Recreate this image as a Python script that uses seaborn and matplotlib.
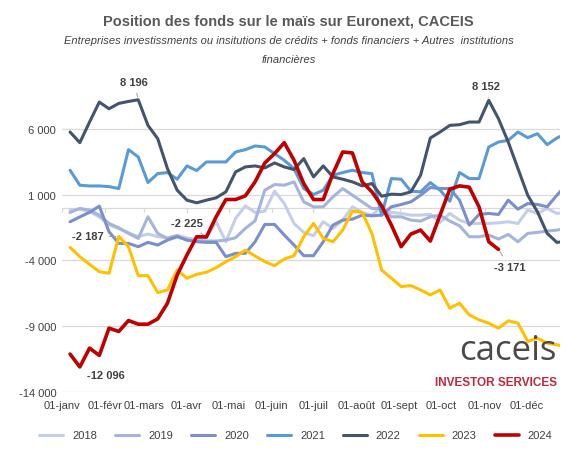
import numpy as np
import pandas as pd
import matplotlib
matplotlib.use("Agg")
import matplotlib.pyplot as plt
import seaborn as sns

months = ["01-janv", "01-févr", "01-mars", "01-avr", "01-mai", "01-juin", "01-juil",
          "01-août", "01-sept", "01-oct", "01-nov", "01-déc"]
month_days = [0, 31, 59, 90, 120, 151, 181, 212, 243, 273, 304, 334]

s2018 = [-200,-100,-300,-700,-1300,-1600,-1900,-2200,-2000,-2200,-2300,-2100,-2300,-2400,-2300,
         -1070,-2586,-818,141,-364,-263,1252,318,-1197,-1878,-2131,-1070,
         -1575,-944,66,-364,-566,66,-364,-439,-566,-566,-500,-1121,-439,-944,-1197,-1197,-1197,
         -1150,-1070,-1197,-187,-439,-61,-439,-313]
s2019 = [-364,-61,-187,-566,-1197,-1525,-1954,-2333,-692,-1954,-2333,-2131,-2459,-2535,-2535,
         -2535,-2459,-2283,-1575,-1000,1328,1757,1707,1960,444,66,66,
         823,1454,949,444,-61,-61,-692,-692,-944,-1020,-692,-566,-1020,-1373,-2207,-2207,-2080,
         -2383,-2030,-2586,-1954,-1878,-1777,-1702,-1575]
s2020 = [-1070,-700,-350,116,-1828,-2712,-2712,-2964,-2636,-2838,-2459,-2207,-2459,-2586,-2636,
         -2636,-3722,-3469,-3469,-2586,-1272,-1272,-2080,-2838,-3646,-3646,-2586,
         -1323,-944,-868,-566,-616,-566,66,242,444,949,1530,1454,1454,571,-1323,-515,-439,-515,
         571,-111,318,242,66,949,1757]
s2021 = [2843,1707,1650,1650,1600,1454,4409,3853,1909,2591,2667,2162,3172,2818,3474,3474,3474,
         4232,4409,4687,4611,4106,3600,2970,1454,1000,1328,
         2465,2667,2843,2667,2591,-566,2212,2162,1252,1202,1909,1328,495,2667,2212,2212,4611,
         4990,5116,5747,5318,5621,4788,5293,5621]
s2022 = [5747,4939,6505,8020,7515,7919,8070,8196,6252,5242,2970,1328,571,369,571,748,1202,2717,
         3096,3172,3020,3399,3096,2894,3727,2338,3172,
         2338,2162,1960,1656,1833,874,1025,1000,1202,2465,5293,5747,6252,6303,6505,6505,8152,
         6757,4990,2970,950,-313,-1954,-2636,-2548]
s2023 = [-3015,-3722,-4303,-4858,-4984,-2187,-2964,-5161,-5161,-6449,-6247,-4732,-5363,-5060,
         -4908,-4555,-4100,-3722,-3217,-3671,-4100,-4403,-3898,-3646,-2207,-1197,-2333,
         -2586,-1702,-262,-363,-1954,-4732,-5363,-5994,-5919,-6247,-6626,-6247,-7636,-7257,
         -8141,-8519,-8772,-9150,-8595,-8772,-10161,-9908,-10287,-10413,-10615]
s2024 = [-11120,-12096,-10665,-11221,-9150,-9403,-8570,-8848,-8848,-8444,-7257,-5110,-3595,
         -2207,-2225,-692,621,621,899,1960,3399,4106,4939,3600,1833,621,621,
         2591,4232,4156,1960,1202,141,-1323,-2964,-2005,-1702,-2535,-566,1404,1656,1555,66,
         -2586,-3171]

series = {"2018": s2018, "2019": s2019, "2020": s2020, "2021": s2021,
          "2022": s2022, "2023": s2023, "2024": s2024}
colors = {"2018": "#C5CEE8", "2019": "#A6B4DC", "2020": "#7A8FCB", "2021": "#5B9BD5",
          "2022": "#44546A", "2023": "#FFC000", "2024": "#C00000"}

rows = []
for yr, vals in series.items():
    for k, v in enumerate(vals):
        rows.append({"day": 6 + 7 * k, "val": v, "year": yr})
df = pd.DataFrame(rows)

sns.set_theme(style="white")
plt.rcParams['font.family'] = ['Liberation Sans', 'DejaVu Sans']

fig = plt.figure(figsize=(5.77, 4.64), dpi=100)
ax = fig.add_axes([0.107, 0.153, 0.863, 0.681])
sns.lineplot(data=df, x="day", y="val", hue="year", palette=colors, ax=ax,
             linewidth=2.2, legend=True)
for ln in ax.lines:
    if ln.get_color().lower() == "#c00000":
        ln.set_linewidth(2.6)
        ln.set_zorder(5)

ax.set_xlim(0, 358)
ax.set_ylim(-14000, 10000)
ax.set_yticks([-14000, -9000, -4000, 1000, 6000])
ax.set_yticklabels([f"{t:,}".replace(",", " ") for t in [-14000, -9000, -4000, 1000, 6000]],
                   fontsize=8, color="#404040")
ax.set_xticks(month_days)
ax.set_xticklabels(months, fontsize=8, color="#404040")
ax.tick_params(axis="both", length=0, pad=4)
ax.tick_params(axis="x", pad=6)
ax.grid(axis="y", color="#D9D9D9", linewidth=0.9)
ax.axhline(0, color="#D9D9D9", linewidth=0.9, zorder=0)
for d in month_days:
    ax.plot([d, d], [0, -350], color="#D9D9D9", lw=0.9, zorder=0)
for s in ax.spines.values():
    s.set_visible(False)
ax.set_xlabel("")
ax.set_ylabel("")

h, l = ax.get_legend_handles_labels()
ax.legend(h, l, loc="upper center", bbox_to_anchor=(0.47, -0.09), ncol=7, frameon=False,
          fontsize=8, handlelength=2.2, columnspacing=1.6, labelcolor="#404040")

fs = 8
tc = "#404040"
ax.annotate("8 196", xy=(6 + 7 * 7, 8196), xytext=(52, 9300), fontsize=fs, color=tc,
            fontweight="bold", ha="center", arrowprops=dict(arrowstyle="-", color="#A0A0A0", lw=0.7))
ax.text(18, -12900, "-12 096", fontsize=fs, color=tc, fontweight="bold")
ax.annotate("-2 187", xy=(6 + 7 * 5, -2187), xytext=(30, -2187), fontsize=fs, color=tc,
            fontweight="bold", ha="right", va="center",
            arrowprops=dict(arrowstyle="-", color="#A0A0A0", lw=0.7))
ax.annotate("-2 225", xy=(6 + 7 * 14, -2225), xytext=(90, -1400), fontsize=fs, color=tc,
            fontweight="bold", ha="center", arrowprops=dict(arrowstyle="-", color="#A0A0A0", lw=0.7))
ax.annotate("8 152", xy=(6 + 7 * 43, 8152), xytext=(305, 9000), fontsize=fs, color=tc,
            fontweight="bold", ha="center", arrowprops=dict(arrowstyle="-", color="#A0A0A0", lw=0.7))
ax.annotate("-3 171", xy=(6 + 7 * 44, -3171), xytext=(322, -4700), fontsize=fs, color=tc,
            fontweight="bold", ha="center", arrowprops=dict(arrowstyle="-", color="#A0A0A0", lw=0.7))
ax.annotate("-2 548", xy=(6 + 7 * 51, -2548), xytext=(352, -3800), fontsize=fs, color=tc,
            fontweight="bold", ha="center", arrowprops=dict(arrowstyle="-", color="#A0A0A0", lw=0.7))

ax.text(356, -10800, "caceis", fontsize=25, color="#4A4A4A", ha="right", va="center",
        fontfamily="Open Sans")
ax.text(356, -13250, "INVESTOR SERVICES", fontsize=8.5, color="#C0283C", ha="right", va="center",
        fontweight="bold")

fig.text(0.5, 0.945, "Position des fonds sur le maïs sur Euronext, CACEIS", ha="center",
         fontsize=10.5, fontweight="bold", color="#595959")
fig.text(0.5, 0.905, "Entreprises investissments ou insitutions de crédits + fonds financiers + Autres  institutions",
         ha="center", fontsize=8, style="italic", color="#404040")
fig.text(0.5, 0.865, "financières", ha="center", fontsize=8, style="italic", color="#404040")

fig.savefig("out.png", dpi=100)
